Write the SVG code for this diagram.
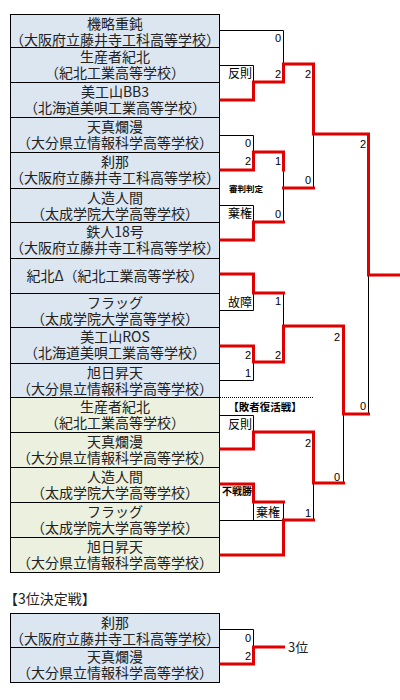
<svg xmlns="http://www.w3.org/2000/svg" width="400" height="700" viewBox="0 0 400 700">
<style>
.b{fill:#dce6f1;stroke:#000;stroke-width:1}
.g{fill:#ebf1de;stroke:#000;stroke-width:1}
.t{font-family:"Noto Sans CJK JP","Noto Sans CJK SC",sans-serif;font-size:14px;fill:#222;text-anchor:middle}
.s{font-family:"Liberation Sans",Arial,sans-serif;font-size:11px;fill:#000;text-anchor:end}
.l{font-family:"Noto Sans CJK JP",sans-serif;font-size:12px;fill:#000;text-anchor:middle}
.lb{font-family:"Noto Sans CJK JP",sans-serif;font-weight:bold;fill:#000;text-anchor:middle}
.k{fill:none;stroke:#000;stroke-width:1}
.r{fill:none;stroke:#e00000;stroke-width:3;stroke-linejoin:miter;stroke-linecap:square}
</style>
<rect width="400" height="700" fill="#fff"/>
<g id="teams">
<g id="t1"><rect class="b" x="10.5" y="14.5" width="209" height="33"/><text class="t" x="115" y="28.5">機略重鈍</text><text class="t" x="115" y="44.5">（大阪府立藤井寺工科高等学校）</text></g>
<g id="t2"><rect class="b" x="10.5" y="47.5" width="209" height="35"/><text class="t" x="115" y="61.5">生産者紀北</text><text class="t" x="115" y="77.5">（紀北工業高等学校）</text></g>
<g id="t3"><rect class="b" x="10.5" y="82.5" width="209" height="35"/><text class="t" x="115" y="96.5">美工山BB3</text><text class="t" x="115" y="112.5">（北海道美唄工業高等学校）</text></g>
<g id="t4"><rect class="b" x="10.5" y="117.5" width="209" height="35"/><text class="t" x="115" y="131.5">天真爛漫</text><text class="t" x="115" y="147.5">（大分県立情報科学高等学校）</text></g>
<g id="t5"><rect class="b" x="10.5" y="152.5" width="209" height="36"/><text class="t" x="115" y="166.5">刹那</text><text class="t" x="115" y="182.5">（大阪府立藤井寺工科高等学校）</text></g>
<g id="t6"><rect class="b" x="10.5" y="188.5" width="209" height="34"/><text class="t" x="115" y="202.5">人造人間</text><text class="t" x="115" y="218.5">（太成学院大学高等学校）</text></g>
<g id="t7"><rect class="b" x="10.5" y="222.5" width="209" height="36"/><text class="t" x="115" y="236.5">鉄人18号</text><text class="t" x="115" y="252.5">（大阪府立藤井寺工科高等学校）</text></g>
<g id="t8"><rect class="b" x="10.5" y="258.5" width="209" height="35"/><text class="t" x="115" y="280.5">紀北Δ（紀北工業高等学校）</text></g>
<g id="t9"><rect class="b" x="10.5" y="293.5" width="209" height="34"/><text class="t" x="115" y="307.5">フラッグ</text><text class="t" x="115" y="323.5">（太成学院大学高等学校）</text></g>
<g id="t10"><rect class="b" x="10.5" y="327.5" width="209" height="36"/><text class="t" x="115" y="341.5">美工山ROS</text><text class="t" x="115" y="357.5">（北海道美唄工業高等学校）</text></g>
<g id="t11"><rect class="b" x="10.5" y="363.5" width="209" height="34"/><text class="t" x="115" y="377.5">旭日昇天</text><text class="t" x="115" y="393.5">（大分県立情報科学高等学校）</text></g>
<g id="t12"><rect class="g" x="10.5" y="397.5" width="209" height="35"/><text class="t" x="115" y="411.5">生産者紀北</text><text class="t" x="115" y="427.5">（紀北工業高等学校）</text></g>
<g id="t13"><rect class="g" x="10.5" y="432.5" width="209" height="35"/><text class="t" x="115" y="446.5">天真爛漫</text><text class="t" x="115" y="462.5">（大分県立情報科学高等学校）</text></g>
<g id="t14"><rect class="g" x="10.5" y="467.5" width="209" height="35"/><text class="t" x="115" y="481.5">人造人間</text><text class="t" x="115" y="497.5">（太成学院大学高等学校）</text></g>
<g id="t15"><rect class="g" x="10.5" y="502.5" width="209" height="35"/><text class="t" x="115" y="516.5">フラッグ</text><text class="t" x="115" y="532.5">（太成学院大学高等学校）</text></g>
<g id="t16"><rect class="g" x="10.5" y="537.5" width="209" height="35"/><text class="t" x="115" y="551.5">旭日昇天</text><text class="t" x="115" y="567.5">（大分県立情報科学高等学校）</text></g>
<g id="t17"><rect class="b" x="10.5" y="613.5" width="209" height="34"/><text class="t" x="115" y="627.5">刹那</text><text class="t" x="115" y="643.5">（大阪府立藤井寺工科高等学校）</text></g>
<g id="t18"><rect class="b" x="10.5" y="647.5" width="209" height="35"/><text class="t" x="115" y="661.5">天真爛漫</text><text class="t" x="115" y="677.5">（大分県立情報科学高等学校）</text></g>
</g>
<g id="connectors">
<path class="k" d="M220,30.5 H283.5 V64 M220,65.5 H253.5 V82 M313.5,134 V188 M220,135.5 H253.5 V152 M283.5,170 V222 M220,205.5 H253.5 V222 M368.5,275 V414 M220,310.5 H253.5 V293 M283.5,293 V326 M220,380.5 H253.5 V362 M343.5,414 V483 M220,415.5 H253.5 V432 M220,520.5 H283.5 V502 M253.5,502 V520 M313.5,483 V520 M220,629.5 H253.5 V647"/>
<path class="k" d="M220,397.5 H313" stroke-dasharray="1,1"/>
<path class="r" d="M221,100 H253.5 V82 H283.5 V64 H313.5 V134 H368.5 V275 H399"/>
<path class="r" d="M221,170 H253.5 V152 H283.5 V170"/>
<path class="r" d="M221,240 H253.5 V222 H283.5"/>
<path class="r" d="M283.5,188 H313.5"/>
<path class="r" d="M221,274 H253.5 V293 H283.5"/>
<path class="r" d="M221,346 H253.5 V362 H283.5 V326 H343.5 V414 H368.5"/>
<path class="r" d="M221,449 H253.5 V432 H313.5 V483 H343.5"/>
<path class="r" d="M221,484 H253.5 V502 H283.5"/>
<path class="r" d="M221,555 H283.5 V520 H313.5"/>
<path class="r" d="M221,664 H253.5 V647 H283.5"/>
</g>
<g id="scores">
<text class="s" x="281" y="42">0</text>
<text class="s" x="281" y="78">2</text>
<text class="s" x="311" y="78">2</text>
<text class="s" x="366" y="148">2</text>
<text class="s" x="251" y="147">0</text>
<text class="s" x="251" y="165">2</text>
<text class="s" x="281" y="165">1</text>
<text class="s" x="311" y="184">0</text>
<text class="s" x="281" y="218">0</text>
<text class="s" x="281" y="305">1</text>
<text class="s" x="251" y="359">2</text>
<text class="s" x="281" y="359">2</text>
<text class="s" x="251" y="377">1</text>
<text class="s" x="340" y="341">2</text>
<text class="s" x="366" y="410">0</text>
<text class="s" x="311" y="447">2</text>
<text class="s" x="340" y="481">0</text>
<text class="s" x="311" y="517">1</text>
<text class="s" x="251" y="642">0</text>
<text class="s" x="251" y="660">2</text>
</g>
<g id="labels">
<text class="l" x="240" y="78">反則</text>
<text class="lb" x="246" y="192" font-size="8.5">審判判定</text>
<text class="l" x="240" y="218">棄権</text>
<text class="l" x="240" y="307">故障</text>
<text class="lb" x="265" y="411" font-size="10.5">【敗者復活戦】</text>
<text class="l" x="240" y="429">反則</text>
<text class="lb" x="237" y="495" font-size="10">不戦勝</text>
<text class="l" x="268" y="517">棄権</text>
<text class="t" x="4" y="604" style="text-anchor:start">【3位決定戦】</text>
<text class="t" x="288" y="652" style="text-anchor:start;font-size:13px">3位</text>
</g>
</svg>
